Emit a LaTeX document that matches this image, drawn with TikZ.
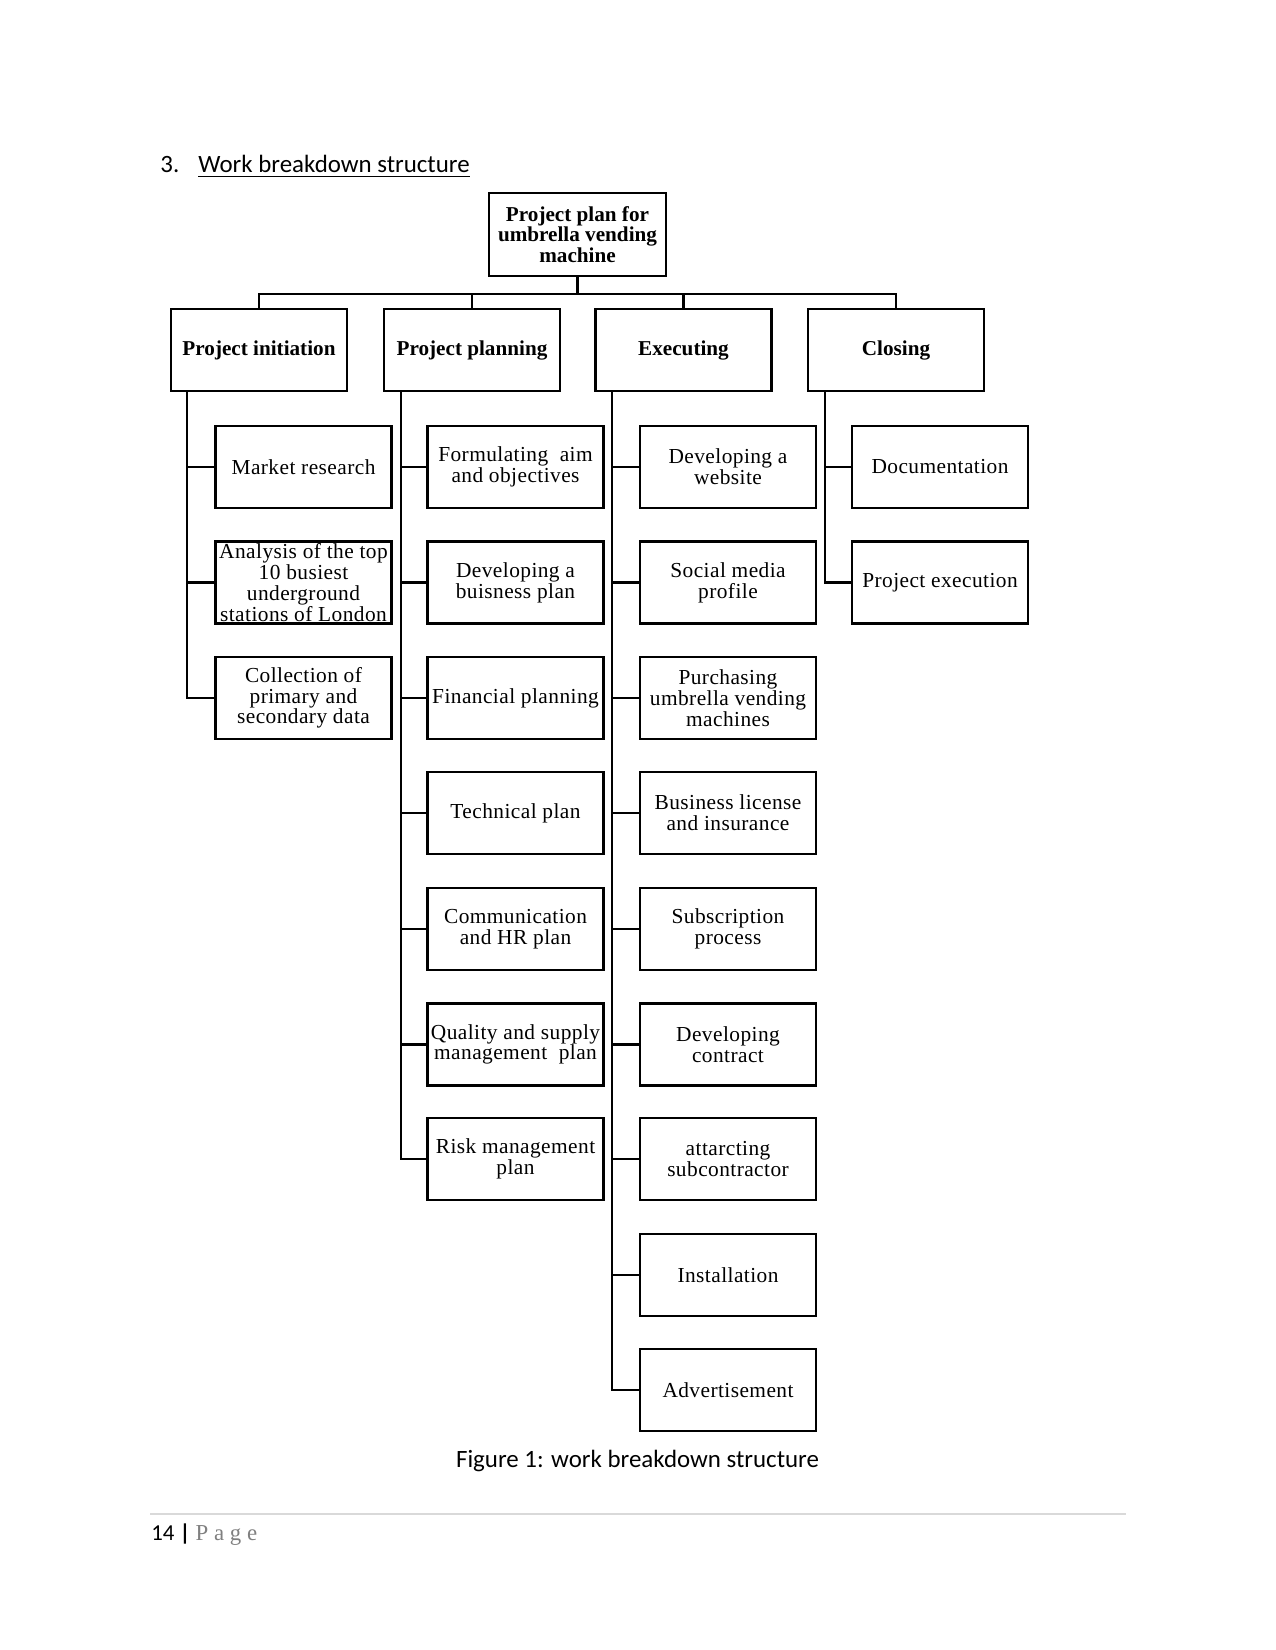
\documentclass[tikz,border=0pt]{standalone}
\usepackage{fontspec}
\setmainfont{Liberation Serif}
\newfontfamily\boxfont[LetterSpace=2]{Liberation Serif}
\newfontfamily\headfont{Liberation Serif}
\newfontfamily\carlito{Carlito}
\newfontfamily\pagefont[LetterSpace=25]{Liberation Serif}
\definecolor{pagegray}{gray}{0.5}
\definecolor{rulegray}{gray}{0.85}
\begin{document}
\begin{tikzpicture}[x=0.4818pt,y=-0.4818pt,
  wbox/.style={draw,line width=1pt,minimum width=84.8pt,minimum height=39.5pt,inner sep=0pt,align=center,
    font=\boxfont\fontsize{10.3}{10}\selectfont},
  hbox/.style={wbox,font=\headfont\bfseries\fontsize{10.2}{10}\selectfont},
  conn/.style={line width=1pt},
  spine/.style={conn}]
\useasboundingbox (0,0) rectangle (1275,1650);
\fill[white] (0,0) rectangle (1275,1650);
% heading
\node[anchor=base west,inner sep=0pt,font=\carlito\fontsize{12}{14}\selectfont] (num) at (160,173) {3.};
\node[anchor=base west,inner sep=0pt,font=\carlito\fontsize{12}{14}\selectfont] (title) at (198,173) {\underline{Work breakdown structure}};
% root
\node[hbox,minimum width=85.3pt,minimum height=40pt] (root) at (577.5,234.5) {Project plan for\\umbrella vending\\machine};
% level 1
\node[hbox] (l1) at (259,350) {Project initiation};
\node[hbox] (l2) at (472,350) {Project planning};
\node[hbox] (l3) at (683.5,350) {Executing};
\node[hbox] (l4) at (896,350) {Closing};
\foreach \n in {l1,l2,l3,l4}
  \draw[conn] (root.south) -- ++(0,17) -| (\n.north);
% column 1
\node[wbox] (a1) at (303.5,467) {Market research};
\node[wbox] (a2) at (303.5,582.5) {Analysis of the top\\10 busiest\\underground\\stations of London};
\node[wbox] (a3) at (303.5,698) {Collection of\\primary and\\secondary data};
% column 2
\node[wbox] (b1) at (515.5,467) {Formulating~~aim\\and objectives};
\node[wbox] (b2) at (515.5,582.5) {Developing a\\buisness plan};
\node[wbox] (b3) at (515.5,698) {Financial planning};
\node[wbox] (b4) at (515.5,813) {Technical plan};
\node[wbox] (b5) at (515.5,929) {Communication\\and HR plan};
\node[wbox] (b6) at (515.5,1044.5) {Quality and supply\\management~~plan};
\node[wbox] (b7) at (515.5,1159) {Risk management\\plan};
% column 3
\node[wbox] (c1) at (728,467) {Developing a\\website};
\node[wbox] (c2) at (728,582.5) {Social media\\profile};
\node[wbox] (c3) at (728,698) {Purchasing\\umbrella vending\\machines};
\node[wbox] (c4) at (728,813) {Business license\\and insurance};
\node[wbox] (c5) at (728,929) {Subscription\\process};
\node[wbox] (c6) at (728,1044.5) {Developing\\contract};
\node[wbox] (c7) at (728,1159) {attarcting\\subcontractor};
\node[wbox] (c8) at (728,1275) {Installation};
\node[wbox] (c9) at (728,1390) {Advertisement};
% column 4
\node[wbox] (d1) at (940,467) {Documentation};
\node[wbox] (d2) at (940,582.5) {Project execution};
% spines
\foreach \n in {a1,a2,a3}
  \draw[spine] ([xshift=8.2pt]l1.south west) |- (\n.west);
\foreach \n in {b1,b2,b3,b4,b5,b6,b7}
  \draw[spine] ([xshift=8.5pt]l2.south west) |- (\n.west);
\foreach \n in {c1,c2,c3,c4,c5,c6,c7,c8,c9}
  \draw[spine] ([xshift=8.5pt]l3.south west) |- (\n.west);
\foreach \n in {d1,d2}
  \draw[spine] ([xshift=8.5pt]l4.south west) |- (\n.west);
% caption
\node[anchor=base,inner sep=0pt,font=\carlito\fontsize{12}{14}\selectfont] (cap) at (637.5,1467) {Figure 1: work breakdown structure};
% footer
\coordinate (fl) at (150,1514);
\coordinate (fr) at (1126,1514);
\draw[rulegray,line width=0.5pt] (fl) -- (fr);
\node[anchor=base west,inner sep=0pt,font=\carlito\fontsize{11}{13}\selectfont] (pnum) at (151,1540) {14 \textbf{|} {\pagefont\color{pagegray}Page}};
\end{tikzpicture}
\end{document}
